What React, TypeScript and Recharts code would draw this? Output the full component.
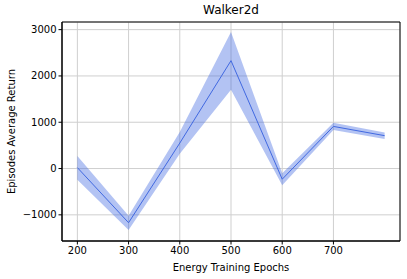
import { ComposedChart, Area, Line, XAxis, YAxis, CartesianGrid, ReferenceArea } from 'recharts';

const epochs = [200, 300, 400, 500, 600, 700, 800];
const meanReturn = [20, -1170, 550, 2330, -230, 910, 710];
const upperReturn = [270, -1020, 790, 2950, -100, 990, 780];
const lowerReturn = [-240, -1330, 320, 1700, -360, 830, 640];
const xTicks = [200, 300, 400, 500, 600, 700];
const yTicks = [-1000, 0, 1000, 2000, 3000];

const data = epochs.map((e, i) => ({
  epoch: e,
  mean: meanReturn[i],
  band: [lowerReturn[i], upperReturn[i]],
}));

const FONT = '"DejaVu Sans", sans-serif';
const TICK = { fill: '#000', fontSize: 10, fontFamily: FONT };

export default function App() {
  return (
    <div style={{ position: 'fixed', left: 0, top: 0, width: 407, height: 279, background: '#fff' }}>
      <div style={{ position: 'absolute', left: 62, width: 338, top: 3, textAlign: 'center', fontFamily: FONT, fontSize: 12, color: '#000' }}>
        Walker2d
      </div>
      <ComposedChart width={407} height={279} data={data} margin={{ top: 22, right: 7, bottom: 0, left: 0 }}>
        <CartesianGrid stroke="#cfcfcf" strokeWidth={1} />
        <XAxis
          dataKey="epoch"
          type="number"
          domain={[170, 830]}
          ticks={xTicks}
          height={38}
          tick={TICK}
          tickSize={3.5}
          tickLine={{ stroke: '#000' }}
          axisLine={{ stroke: '#000' }}
          label={{ value: 'Energy Training Epochs', position: 'insideBottom', offset: 8, style: { fontFamily: FONT, fontSize: 10, fill: '#000' } }}
        />
        <YAxis
          type="number"
          domain={[-1565, 3165]}
          ticks={yTicks}
          width={62}
          tick={TICK}
          tickSize={3.5}
          tickLine={{ stroke: '#000' }}
          axisLine={{ stroke: '#000' }}
          tickFormatter={(v: number) => (v < 0 ? `\u2212${Math.abs(v)}` : `${v}`)}
          label={{ value: 'Episodes Average Return', angle: -90, position: 'insideLeft', offset: 11, style: { fontFamily: FONT, fontSize: 10, fill: '#000', textAnchor: 'middle' } }}
        />
        <Area dataKey="band" type="linear" stroke="none" fill="#4169e1" fillOpacity={0.4} isAnimationActive={false} />
        <Line dataKey="mean" type="linear" stroke="#4169e1" strokeWidth={1} dot={false} isAnimationActive={false} />
        <ReferenceArea x1={170} x2={830} y1={-1565} y2={3165} fill="none" stroke="#000" strokeWidth={1} ifOverflow="visible" />
      </ComposedChart>
    </div>
  );
}
